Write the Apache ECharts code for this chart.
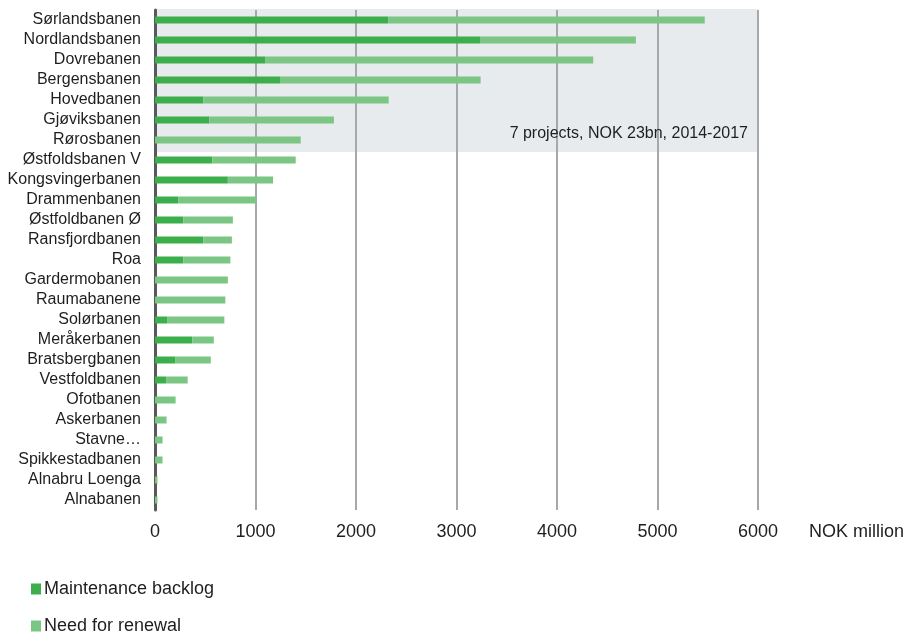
<!DOCTYPE html>
<html><head><meta charset="utf-8">
<script src="https://cdn.jsdelivr.net/npm/echarts@6/dist/echarts.min.js"></script>
<style>html,body{margin:0;padding:0;background:#fff}#c{width:910px;height:633px}</style>
</head><body><div id="c"></div>
<script>
const categories = ["Sørlandsbanen","Nordlandsbanen","Dovrebanen","Bergensbanen","Hovedbanen","Gjøviksbanen","Rørosbanen","Østfoldsbanen V","Kongsvingerbanen","Drammenbanen","Østfoldbanen Ø","Ransfjordbanen","Roa","Gardermobanen","Raumabanene","Solørbanen","Meråkerbanen","Bratsbergbanen","Vestfoldbanen","Ofotbanen","Askerbanen","Stavne…","Spikkestadbanen","Alnabru Loenga","Alnabanen"];
const backlog = [2320,3240,1095,1250,480,540,0,570,725,230,280,480,280,0,0,120,370,205,110,0,0,0,0,0,0];
const renewal = [3150,1545,3265,1990,1845,1240,1450,830,450,780,495,285,470,725,700,570,215,350,215,205,115,75,75,25,25];
const xTicks = [0,1000,2000,3000,4000,5000,6000];
const highlightCount = 7;
const highlightText = "7 projects, NOK 23bn, 2014-2017";

const chart = echarts.init(document.getElementById('c'));
const font = 'Liberation Sans, Arial, sans-serif';
chart.setOption({
  animation: false,
  textStyle: {fontFamily: font},
  grid: {left: 155, right: 152, top: 10, bottom: 123, containLabel: false},
  legend: {
    orient: 'vertical', left: 31, top: 580, height: 120, padding: 0,
    itemWidth: 10, itemHeight: 11, itemGap: 19,
    icon: 'rect', textStyle: {fontSize: 18, color: '#1e1e1e', fontFamily: font, padding: [0,0,0,-2]},
    data: ['Maintenance backlog', 'Need for renewal']
  },
  xAxis: {
    type: 'value', min: xTicks[0], max: xTicks[xTicks.length-1], interval: 1000,
    name: 'NOK million', nameLocation: 'end', nameGap: 51,
    nameTextStyle: {fontSize: 18, color: '#1e1e1e', verticalAlign: 'top', padding: [13,0,0,0]},
    axisLine: {show: false}, axisTick: {show: false},
    axisLabel: {fontSize: 18, color: '#1e1e1e', margin: 13, formatter: v => String(v)},
    splitLine: {show: true, lineStyle: {color: '#a6a8ab', width: 2}}
  },
  yAxis: {
    type: 'category', data: categories, inverse: true,
    axisLine: {show: true, lineStyle: {color: '#58595b', width: 3}},
    axisTick: {show: false},
    axisLabel: {fontSize: 16, color: '#1e1e1e', margin: 14, interval: 0}
  },
  series: [
    {name: 'Maintenance backlog', type: 'bar', stack: 's', data: backlog, barWidth: 7, itemStyle: {color: '#3cae4c'}},
    {name: 'Need for renewal', type: 'bar', stack: 's', data: renewal, barWidth: 7, itemStyle: {color: '#7cc684'}}
  ]
});

const y0 = chart.convertToPixel({yAxisIndex: 0}, 0);
const y1 = chart.convertToPixel({yAxisIndex: 0}, 1);
const band = y1 - y0;
const yTop = y0 - band / 2 - 1;
const yBot = chart.convertToPixel({yAxisIndex: 0}, highlightCount - 1) + band / 2 + 2;
const xL = chart.convertToPixel({xAxisIndex: 0}, xTicks[0]);
const xR = chart.convertToPixel({xAxisIndex: 0}, xTicks[xTicks.length-1]);
chart.setOption({
  graphic: [
    {type: 'rect', z: -10, silent: true, shape: {x: xL, y: yTop, width: xR - xL, height: yBot - yTop}, style: {fill: '#e8ebee'}},
    {type: 'text', z: 10, silent: true, x: xR - 10, y: yBot - 18,
     style: {text: highlightText, fill: '#1e1e1e', font: '16px ' + font, align: 'right', verticalAlign: 'middle'}}
  ]
});
</script></body></html>
